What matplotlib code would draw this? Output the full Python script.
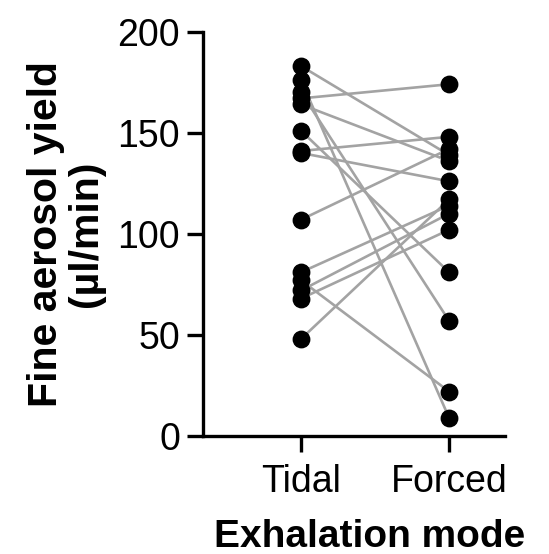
import matplotlib
matplotlib.use("Agg")
import matplotlib.pyplot as plt

plt.rcParams["font.family"] = ["Liberation Sans", "DejaVu Sans"]

modes = ["Tidal", "Forced"]
# paired fine aerosol yield per subject (µl/min)
tidal = [183, 176, 170, 167, 164, 151, 141, 140, 107, 81, 77, 72, 68, 48]
forced = [139, 9, 57, 174, 136, 81, 148, 126, 142, 114, 22, 110, 102, 117]

fig = plt.figure(figsize=(5.49, 5.54), dpi=100)
ax = fig.add_axes([0.3698, 0.213, 0.5501, 0.7298])

for t, f in zip(tidal, forced):
    ax.plot([0, 1], [t, f], color="#a3a3a3", lw=1.9, zorder=1, clip_on=False)

ax.scatter([0] * len(tidal), tidal, s=140, color="black", zorder=3, clip_on=False)
ax.scatter([1] * len(forced), forced, s=140, color="black", zorder=3, clip_on=False)

ax.set_xlim(-0.662, 1.378)
ax.set_ylim(0, 200)
ax.set_yticks([0, 50, 100, 150, 200])
ax.set_xticks([0, 1])
ax.set_xticklabels(modes)

for side in ["top", "right"]:
    ax.spines[side].set_visible(False)
for side in ["left", "bottom"]:
    ax.spines[side].set_linewidth(2.4)

ax.tick_params(axis="both", width=2.4, length=11.5, labelsize=27, pad=5)
ax.tick_params(axis="x", pad=9)

ax.set_ylabel("Fine aerosol yield\n(µl/min)", fontsize=29.5, fontweight="bold",
              linespacing=1.05, labelpad=9)
ax.set_xlabel("Exhalation mode", fontsize=28, fontweight="bold")
ax.xaxis.set_label_coords(0.553, -0.205)

fig.savefig("out.png", dpi=100)
